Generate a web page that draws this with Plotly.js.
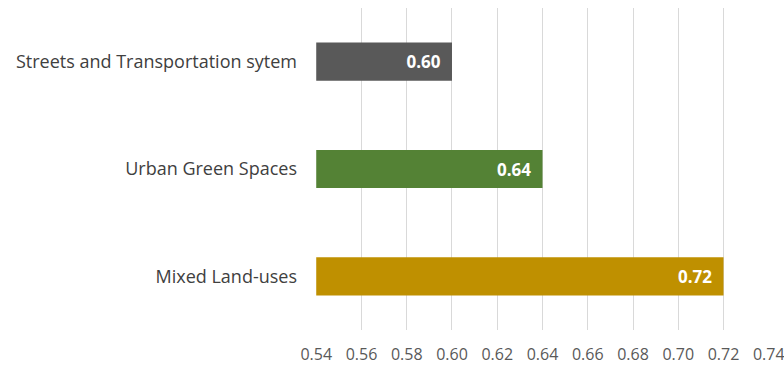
<!DOCTYPE html>
<html>
<head>
<meta charset="utf-8">
<script src="https://cdn.plot.ly/plotly-3.0.1.min.js"></script>
<style>html,body{margin:0;padding:0;background:#fff;}#chart{width:784px;height:367px;}</style>
</head>
<body>
<div id="chart"></div>
<script>
const categories = ["Mixed Land-uses", "Urban Green Spaces", "Streets and Transportation sytem"];
const values = [0.72, 0.64, 0.60];
const barColors = ["#BF9000", "#548235", "#595959"];
const xTicks = [0.54, 0.56, 0.58, 0.60, 0.62, 0.64, 0.66, 0.68, 0.70, 0.72, 0.74];
const axisBase = 0.54;

const trace = {
  type: "bar",
  orientation: "h",
  y: categories,
  x: values.map(v => v - axisBase),
  base: axisBase,
  marker: {color: barColors, line: {width: 0}},
  width: 0.355,
  text: values.map(v => v.toFixed(2) + "\u2002"),
  textposition: "inside",
  insidetextanchor: "end",
  textfont: {family: "Open Sans, sans-serif", size: 17, color: "#ffffff", weight: "bold"},
  hoverinfo: "none",
  cliponaxis: false
};

const layout = {
  width: 784, height: 367,
  margin: {l: 316, r: 15, t: 8, b: 37},
  paper_bgcolor: "#ffffff",
  plot_bgcolor: "#ffffff",
  showlegend: false,
  font: {family: "Open Sans, sans-serif", color: "#404040"},
  xaxis: {
    range: [0.5399, 0.7401],
    tickvals: xTicks,
    ticktext: xTicks.map(v => v.toFixed(2)),
    showgrid: true,
    gridcolor: "#d9d9d9",
    gridwidth: 1,
    zeroline: false,
    showline: false,
    ticks: "",
    ticklabelstandoff: 13,
    ticklabeloverflow: "allow",
    tickfont: {size: 16, color: "#595959"},
    fixedrange: true
  },
  yaxis: {
    categoryorder: "array",
    categoryarray: categories,
    showgrid: false,
    zeroline: false,
    showline: false,
    ticks: "",
    ticklabelstandoff: 18,
    tickfont: {size: 18, color: "#404040"},
    fixedrange: true
  }
};

Plotly.newPlot("chart", [trace], layout, {displayModeBar: false, staticPlot: true});
</script>
</body>
</html>
